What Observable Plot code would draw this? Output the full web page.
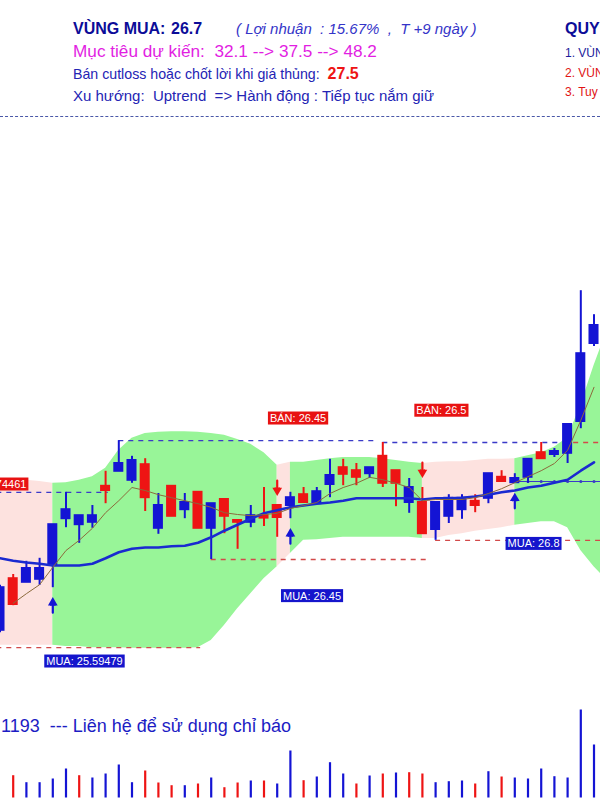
<!DOCTYPE html>
<html><head><meta charset="utf-8">
<script src="https://cdn.jsdelivr.net/npm/d3@7"></script>
<script src="https://cdn.jsdelivr.net/npm/@observablehq/plot@0.6"></script>
<style>
body{margin:0;background:#fff;font-family:"Liberation Sans",Arial,sans-serif;}
#wrap{position:relative;width:600px;height:800px;overflow:hidden;background:#fff;}
.h{position:absolute;white-space:pre;line-height:20px;}
</style></head><body><div id="wrap">
<div class="h" style="left:73px;top:19px;font-weight:bold;font-size:16px;color:#0c0c98">VÙNG MUA:</div>
<div class="h" style="left:171px;top:19px;font-weight:bold;font-size:16px;color:#0c0c98">26.7</div>
<div class="h" style="left:236px;top:19px;font-style:italic;font-size:15px;color:#3434c8">( Lợi nhuận  : 15.67%  ,  T +9 ngày )</div>
<div class="h" style="left:565px;top:19px;font-weight:bold;font-size:16px;color:#0c0c98">QUY</div>
<div class="h" style="left:73px;top:41px;font-size:17.2px;color:#e21ee2">Mục tiêu dự kiến:  32.1 --&gt; 37.5 --&gt; 48.2</div>
<div class="h" style="left:73px;top:64px;font-size:14.2px;color:#2424b4">Bán cutloss hoặc chốt lời khi giá thủng:  <b style="color:#ee1414;font-size:16px">27.5</b></div>
<div class="h" style="left:73px;top:86px;font-size:15px;color:#2424b4">Xu hướng:  Uptrend  =&gt; Hành động : Tiếp tục nắm giữ</div>
<div class="h" style="left:565px;top:43px;font-size:12px;color:#1c1c9c">1. VÙN</div>
<div class="h" style="left:565px;top:63px;font-size:12px;color:#e01414">2. VÙN</div>
<div class="h" style="left:565px;top:82px;font-size:12px;color:#e01414">3. Tuy</div>
<div style="position:absolute;left:0;top:116px;width:600px;border-top:1px dashed #4a58a8"></div>
<div id="main" style="position:absolute;left:0;top:118px"></div>
<div id="vol" style="position:absolute;left:0;top:700px"></div>
<div class="h" style="left:1px;top:716px;font-size:18px;color:#1c1cc4">1193  --- Liên hệ để sử dụng chỉ báo</div>
</div>
<script>
// candle index (-1 is the partly hidden bar at the left edge)
const idx = d3.range(-1, 45);
const open  = [25.32,26.18,26.12,26.17,26.40,27.18,27.08,27.12,27.72,27.97,27.82,28.08,27.02,27.72,27.33,27.62,27.02,27.50,27.15,27.12,27.23,27.40,27.40,27.58,27.43,27.75,28.03,27.98,27.93,28.22,27.98,27.45,27.45,27.00,27.22,27.33,27.47,27.52,27.87,27.78,27.87,28.28,28.25,28.27,28.80,30.10];
const high  = [26.07,26.25,26.47,26.52,27.08,27.62,27.23,27.40,27.97,28.48,28.22,28.18,27.60,27.72,27.60,27.62,27.43,27.50,27.15,27.40,27.70,27.40,27.62,27.70,27.70,28.17,28.17,28.10,28.03,28.45,27.98,27.85,27.70,27.45,27.58,27.58,27.58,27.93,27.98,27.93,28.17,28.45,28.35,28.75,30.98,30.58];
const low   = [25.28,25.73,26.12,26.07,26.03,27.03,26.77,27.02,27.43,27.97,27.77,27.30,26.92,27.22,27.18,27.02,26.50,26.93,26.67,27.03,27.05,26.87,27.18,27.45,27.43,27.53,27.73,27.73,27.85,27.70,27.38,27.27,26.93,26.82,27.10,27.17,27.28,27.43,27.80,27.77,27.77,28.18,28.20,28.10,28.68,30.05];
const close = [26.03,25.75,26.35,26.35,27.08,27.33,27.23,27.23,27.65,28.10,28.15,27.53,27.40,27.22,27.45,27.02,27.43,27.22,27.12,27.23,27.19,27.20,27.53,27.45,27.63,27.90,27.92,27.87,28.03,27.77,27.77,27.70,26.93,27.45,27.52,27.52,27.40,27.93,27.80,27.85,28.17,28.18,28.30,28.75,29.93,30.40];
// volume (thousand shares)
const volume = [null,223,153,153,190,290,223,200,240,330,153,270,150,123,123,140,200,103,150,170,170,140,470,173,210,353,240,140,220,240,250,253,240,153,163,170,140,263,210,200,190,290,213,200,880,530];
// moving averages
const maSlow = [26.52,26.48,26.45,26.43,26.40,26.40,26.40,26.43,26.52,26.62,26.68,26.70,26.70,26.72,26.73,26.78,26.87,26.98,27.08,27.18,27.27,27.32,27.37,27.40,27.43,27.45,27.48,27.52,27.52,27.52,27.52,27.52,27.50,27.52,27.52,27.53,27.55,27.58,27.62,27.65,27.70,27.73,27.78,27.83,27.98,28.12];
const maFast = [null,25.77,25.93,26.08,26.37,26.65,26.82,27.02,27.28,27.48,27.70,27.65,27.58,27.53,27.48,27.43,27.37,27.28,27.25,27.23,27.25,27.27,27.35,27.40,27.45,27.60,27.70,27.77,27.87,27.83,27.77,27.70,27.48,27.50,27.50,27.50,27.53,27.60,27.68,27.78,27.88,27.98,28.10,28.32,28.82,29.37];
// envelope band, index -1..45
const bandIdx = d3.range(-1, 46);
const bandUpper = [27.82,27.82,27.82,27.80,27.77,27.78,27.82,27.88,28.02,28.32,28.52,28.60,28.62,28.63,28.63,28.62,28.60,28.57,28.50,28.42,28.28,28.07,28.12,28.12,28.15,28.18,28.20,28.20,28.20,28.18,28.15,28.12,28.10,28.12,28.13,28.13,28.15,28.17,28.17,28.18,28.23,28.28,28.37,28.53,29.07,29.73,30.32];
const bandLower = [25.07,25.07,25.07,25.07,25.07,25.05,25.05,25.03,25.03,25.03,25.02,25.02,25.02,25.02,25.02,25.03,25.15,25.40,25.68,25.93,26.18,26.38,26.60,26.82,26.83,26.85,26.87,26.87,26.87,26.87,26.87,26.87,26.85,26.85,26.90,26.93,26.97,27.00,27.03,27.07,27.10,27.13,27.13,27.03,26.65,26.38,26.15];
// zone of each interval [i, i+1], i = -1..44 : "S" sideway (pink), "U" uptrend (green)
const zone = ["S","S","S","S","U","U","U","U","U","U","U","U","U","U","U","U","U","U","U","U","U","S","U","U","U","U","U","U","U","U","U","U","S","S","S","S","S","S","S","U","U","U","U","U","U","U"];
// signals
const buySignals = [3, 21, 38];
const sellSignals = [20, 31];
const levelKind  = ["sell","sell","sell","buy","buy","buy","buy"];
const levelFrom  = [-2, 8, 28, 41.7, -2, 15, 32];
const levelTo    = [7.2, 27.5, 41.5, 45, 14.2, 31.5, 45];
const levelPrice = [27.62, 28.48, 28.45, 28.45, 25.03, 26.50, 26.82];
const trailFrom = 38, trailTo = 45, trailPrice = 27.80;
const labelText  = ["BÁN: 27.74461","BÁN: 26.45","BÁN: 26.5","MUA: 26.45","MUA: 26.8","MUA: 25.59479"];
const labelKind  = ["sell","sell","sell","buy","buy","buy"];
const labelI     = [1.0, 21.58, 32.44, 22.64, 39.42, 5.40];
const labelPrice = [27.75, 28.85, 28.98, 25.89, 26.76, 24.80];
const labelAnchor= ["end","middle","middle","middle","middle","middle"];

const BLUE = "#1414d4", RED = "#ee1414", GREEN = "#98f598", PINK = "#fde2df";
const candles = idx.map((i,k)=>({i, o:open[k], h:high[k], l:low[k], c:close[k], v:volume[k], prev:k>0?close[k-1]:null, slow:maSlow[k], fast:maFast[k]}));
const bandRows = [];
let seg = 0;
zone.forEach((z,k)=>{
  if (k>0 && z!==zone[k-1]) seg++;
  const col = z==="S"?PINK:GREEN;
  bandRows.push({i:bandIdx[k], lo:bandLower[k], hi:bandUpper[k], seg, col});
  bandRows.push({i:bandIdx[k+1], lo:bandLower[k+1], hi:bandUpper[k+1], seg, col});
});
const levels = levelKind.map((kind,k)=>({kind, from:levelFrom[k], to:levelTo[k], price:levelPrice[k]}));
const trailPts = candles.filter(d=>d.i>=trailFrom);
const labels = labelText.map((t,k)=>({text:t, kind:labelKind[k], i:labelI[k], price:labelPrice[k], anchor:labelAnchor[k]}));
const labelsEnd = labels.filter(d=>d.anchor==="end");
const labelsMid = labels.filter(d=>d.anchor!=="end");
const buys = candles.filter(d=>buySignals.includes(d.i));
const sells = candles.filter(d=>sellSignals.includes(d.i));
const xDomain = [-0.962, 44.492];
const textOpts = {x:"i", y:"price", text:"text", fill:"white", fontSize:11, fontFamily:"Liberation Sans, Arial, sans-serif"};

const main = Plot.plot({
  width:600, height:582, margin:0,
  x:{domain:xDomain, axis:null},
  y:{domain:[24.15,33.85], axis:null},
  color:{type:"identity"},
  marks:[
    Plot.areaY(bandRows,{x:"i", y1:"lo", y2:"hi", z:"seg", fill:"col", clip:true}),
    Plot.ruleY(levels,{y:"price", x1:"from", x2:"to", stroke:d=>d.kind==="sell"?"#3a3ac8":"#d24a4a", strokeDasharray:"5,5", strokeWidth:1.3, clip:true}),
    Plot.ruleY([trailPrice],{x1:trailFrom, x2:trailTo, stroke:"#3a3ac8", strokeWidth:1, clip:true}),
    Plot.dot(trailPts,{x:"i", y:()=>trailPrice, r:1.5, fill:"#3a3ac8", clip:true}),
    Plot.ruleX(candles,{x:"i", y1:"l", y2:"h", stroke:d=>d.c>=d.o?BLUE:RED, strokeWidth:2, clip:true}),
    Plot.rect(candles,{x1:d=>d.i-0.38, x2:d=>d.i+0.38, y1:"o", y2:"c", fill:d=>d.c>=d.o?BLUE:RED, insetTop:-1, insetBottom:-1, clip:true}),
    Plot.line(candles,{x:"i", y:"slow", stroke:"#1a2ad0", strokeWidth:2.6, clip:true}),
    Plot.line(candles.filter(d=>d.fast!=null),{x:"i", y:"fast", stroke:"#8c6a3c", strokeWidth:1, clip:true}),
    Plot.vector(buys,{x:"i", y:"l", dy:25, length:10, rotate:0, anchor:"start", stroke:BLUE, strokeWidth:2.2}),
    Plot.dot(buys,{x:"i", y:"l", dy:15, symbol:"triangle", r:3.6, fill:BLUE}),
    Plot.vector(sells,{x:"i", y:"h", dy:-25, length:10, rotate:180, anchor:"start", stroke:RED, strokeWidth:2.2}),
    Plot.dot(sells,{x:"i", y:"h", dy:-15, symbol:"triangle", r:3.6, rotate:180, fill:RED}),
    Plot.text(labelsEnd,{...textOpts, textAnchor:"end"}),
    Plot.text(labelsMid,{...textOpts, textAnchor:"middle"})
  ]
});
document.getElementById("main").append(main);
// label boxes
const ordered = [...labelsEnd, ...labelsMid];
const tg = main.querySelectorAll('g[aria-label="text"] text');
tg.forEach((t,k)=>{
  const bb = t.getBBox();
  const r = document.createElementNS("http://www.w3.org/2000/svg","rect");
  r.setAttribute("x", bb.x-2); r.setAttribute("y", bb.y-0.5);
  r.setAttribute("width", bb.width+4); r.setAttribute("height", bb.height+1);
  r.setAttribute("fill", ordered[k].kind==="sell"?"#e81212":"#1515cc");
  const tr = t.getAttribute("transform"); if (tr) r.setAttribute("transform", tr);
  t.parentNode.insertBefore(r, t);
});

const vol = Plot.plot({
  width:600, height:100, margin:0,
  x:{domain:xDomain, axis:null},
  y:{domain:[0,975], range:[97.5,0], axis:null},
  color:{type:"identity"},
  marks:[
    Plot.ruleX(candles.filter(d=>d.v!=null),{x:"i", y1:0, y2:"v", stroke:d=>d.c>=d.prev?BLUE:RED, strokeWidth:2.2})
  ]
});
document.getElementById("vol").append(vol);
</script>
</body></html>
